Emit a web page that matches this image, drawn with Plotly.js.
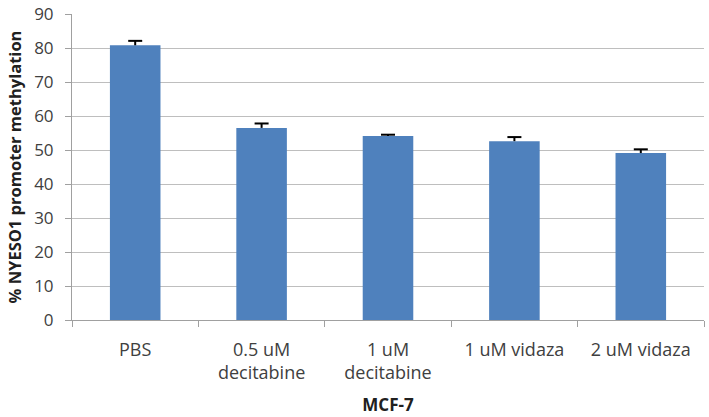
<!DOCTYPE html>
<html>
<head>
<meta charset="utf-8">
<script src="https://cdn.plot.ly/plotly-3.0.1.min.js"></script>
<style>html,body{margin:0;padding:0;background:#fff;}#chart{width:709px;height:417px;}</style>
</head>
<body>
<div id="chart"></div>
<script>
const categories = ["PBS", "0.5 uM<br>decitabine", "1 uM<br>decitabine", "1 uM vidaza", "2 uM vidaza"];
const methylation = [80.8, 56.5, 54.1, 52.6, 49.1];
const errorUp = [1.3, 1.3, 0.4, 1.2, 1.1];
const yTicks = [0, 10, 20, 30, 40, 50, 60, 70, 80, 90];

const bars = {
  type: 'bar',
  x: categories,
  y: methylation,
  marker: {color: '#4F81BD'},
  width: 0.4,
  hoverinfo: 'skip'
};

// upper-only error bars: stem from bar top to bar top + error, cap at the top
const stemX = [], stemY = [];
categories.forEach((c, i) => {
  stemX.push(c, c, null);
  stemY.push(methylation[i], methylation[i] + errorUp[i], null);
});
const stems = {
  type: 'scatter', mode: 'lines', x: stemX, y: stemY,
  line: {color: '#000', width: 2}, hoverinfo: 'skip', cliponaxis: false
};
const caps = {
  type: 'scatter', mode: 'markers', x: categories,
  y: methylation.map((v, i) => v + errorUp[i]),
  marker: {symbol: 'line-ew', size: 10, line: {color: '#000', width: 2}},
  hoverinfo: 'skip', cliponaxis: false
};

const layout = {
  width: 709, height: 417,
  margin: {l: 72, r: 5, t: 14, b: 97},
  paper_bgcolor: '#fff', plot_bgcolor: '#fff',
  showlegend: false,
  font: {family: '"Open Sans", sans-serif', color: '#404040'},
  xaxis: {
    type: 'category',
    showgrid: false,
    showline: true, linecolor: '#A0A0A0', linewidth: 1,
    ticks: 'outside', ticklen: 6, tickcolor: '#A0A0A0', tickson: 'boundaries',
    tickfont: {size: 18, color: '#404040'},
    ticklabelstandoff: 13,
    title: {text: '<b>MCF-7</b>', font: {size: 17, color: '#202020'}, standoff: 16},
    range: [-0.5, 4.5]
  },
  yaxis: {
    range: [0, 90],
    tickvals: yTicks,
    showgrid: true, gridcolor: '#BEBEBE', gridwidth: 1,
    showline: true, linecolor: '#A0A0A0', linewidth: 1,
    ticks: 'outside', ticklen: 6, tickcolor: '#A0A0A0',
    tickfont: {size: 17, color: '#404040'},
    ticklabelstandoff: 8,
    zeroline: false,
    title: {text: '<b>% NYESO1 promoter methylation</b>', font: {size: 16.5, color: '#202020'}, standoff: 8}
  }
};

Plotly.newPlot('chart', [bars, stems, caps], layout, {displayModeBar: false, staticPlot: true});
</script>
</body>
</html>
